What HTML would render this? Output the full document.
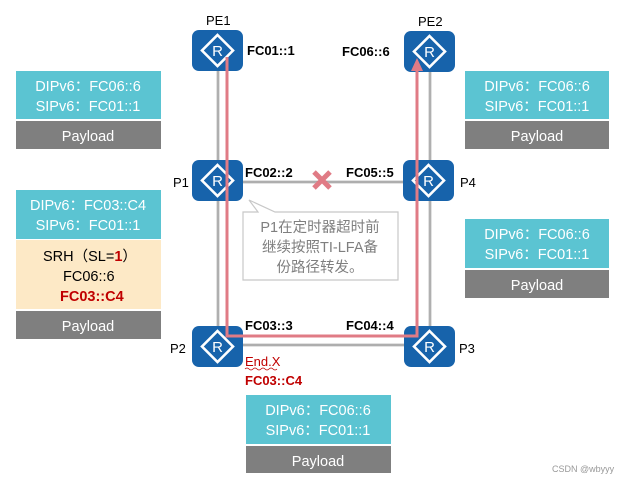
<!DOCTYPE html>
<html><head><meta charset="utf-8"><style>
body{margin:0;background:#fff;width:625px;height:480px;overflow:hidden}
svg{display:block}
text{font-family:"Liberation Sans","Noto Sans CJK SC",sans-serif}
</style></head><body>
<svg width="625" height="480" viewBox="0 0 625 480" xmlns="http://www.w3.org/2000/svg">
<defs>
<g id="r">
<rect x="0" y="0" width="51" height="41" rx="7" fill="#1763ab"/>
<path d="M25.5 5 L41 20.5 L25.5 36 L10 20.5 Z" fill="none" stroke="#fff" stroke-width="2.6"/>
<text x="25.5" y="26" font-size="15" fill="#fff" text-anchor="middle">R</text>
</g>
</defs>
<!-- gray links -->
<g stroke="#8a8a8a" stroke-width="2.5" fill="none">
<line x1="218" y1="70" x2="218" y2="162"/>
<line x1="218" y1="200" x2="218" y2="327"/>
<line x1="430" y1="70" x2="430" y2="162"/>
<line x1="430" y1="200" x2="430" y2="327"/>
<line x1="242" y1="182" x2="405" y2="182"/>
<line x1="242" y1="345" x2="405" y2="345"/>
</g>
<g stroke="#e8e8e8" stroke-width="0.8" fill="none">
<line x1="218" y1="70" x2="218" y2="327"/>
<line x1="430" y1="70" x2="430" y2="327"/>
<line x1="242" y1="182" x2="405" y2="182"/>
<line x1="242" y1="345" x2="405" y2="345"/>
</g>
<!-- routers -->
<use href="#r" x="192" y="30"/>
<use href="#r" x="404" y="31"/>
<use href="#r" x="192" y="160"/>
<use href="#r" x="403" y="160"/>
<use href="#r" x="192" y="326"/>
<use href="#r" x="404" y="326"/>
<!-- red path -->
<path d="M227 57 L227 336 L417 336 L417 70" fill="none" stroke="#e07b85" stroke-width="3"/>
<path d="M411 71 L417 58 L423 71 Z" fill="#e07b85"/>
<!-- X -->
<g stroke="#e07b85" stroke-width="5"><line x1="314" y1="172" x2="330" y2="188"/><line x1="330" y1="172" x2="314" y2="188"/></g>
<!-- callout -->
<path d="M243 212 L258 212 L249 200 L275 212 L398 212 L398 280 L243 280 Z" fill="#fff" stroke="#c8c8c8" stroke-width="1.2"/>
<text font-size="14.5" fill="#7f7f7f" text-anchor="middle"><tspan x="320" y="232">P1在定时器超时前</tspan><tspan x="320" y="252">继续按照TI-LFA备</tspan><tspan x="320" y="272">份路径转发。</tspan></text>
<!-- labels -->
<g font-size="13" fill="#000">
<text x="206" y="25">PE1</text><text x="418" y="26">PE2</text>
<text x="173" y="187">P1</text><text x="460" y="187">P4</text>
<text x="170" y="353">P2</text><text x="459" y="353">P3</text>
</g>
<g font-size="13" font-weight="bold" fill="#000">
<text x="247" y="55">FC01::1</text><text x="342" y="56">FC06::6</text>
<text x="245" y="177">FC02::2</text><text x="346" y="177">FC05::5</text>
<text x="245" y="330">FC03::3</text><text x="346" y="330">FC04::4</text>
</g>
<text x="245" y="366" font-size="13" fill="#c00000">End.X</text>
<path d="M245 369 q2 -2 4 0 t4 0 t4 0 t4 0 t4 0 t4 0 t4 0 t4 0" stroke="#c00000" fill="none" stroke-width="0.8"/>
<text x="245" y="385" font-size="13" font-weight="bold" fill="#c00000">FC03::C4</text>
<!-- boxes -->
<g font-size="14.5" fill="#fff" text-anchor="middle">
<rect x="16" y="71" width="145" height="48" fill="#5bc4d2"/><rect x="16" y="121" width="145" height="28" fill="#7f7f7f"/>
<text x="88" y="91">DIPv6：FC06::6</text><text x="88" y="111">SIPv6：FC01::1</text><text x="88" y="141">Payload</text>
<rect x="465" y="71" width="144" height="48" fill="#5bc4d2"/><rect x="465" y="121" width="144" height="28" fill="#7f7f7f"/>
<text x="537" y="91">DIPv6：FC06::6</text><text x="537" y="111">SIPv6：FC01::1</text><text x="537" y="141">Payload</text>
<rect x="465" y="219" width="144" height="49" fill="#5bc4d2"/><rect x="465" y="270" width="144" height="28" fill="#7f7f7f"/>
<text x="537" y="239">DIPv6：FC06::6</text><text x="537" y="259">SIPv6：FC01::1</text><text x="537" y="290">Payload</text>
<rect x="16" y="190" width="145" height="49" fill="#5bc4d2"/><rect x="16" y="240" width="145" height="69" fill="#fde9c6"/><rect x="16" y="311" width="145" height="28" fill="#7f7f7f"/>
<text x="88" y="210">DIPv6：FC03::C4</text><text x="88" y="230">SIPv6：FC01::1</text><text x="88" y="331">Payload</text>
<rect x="246" y="395" width="145" height="49" fill="#5bc4d2"/><rect x="246" y="446" width="145" height="27" fill="#7f7f7f"/>
<text x="318" y="415">DIPv6：FC06::6</text><text x="318" y="435">SIPv6：FC01::1</text><text x="318" y="466">Payload</text>
</g>
<g font-size="14.5" fill="#000">
<text x="43" y="261">SRH（SL=<tspan fill="#c00000" font-weight="bold">1</tspan>）</text>
<text x="63" y="281">FC06::6</text>
<text x="60" y="301" fill="#c00000" font-weight="bold">FC03::C4</text>
</g>
<text x="552" y="472" font-size="9" fill="#999">CSDN @wbyyy</text>
</svg>
</body></html>
